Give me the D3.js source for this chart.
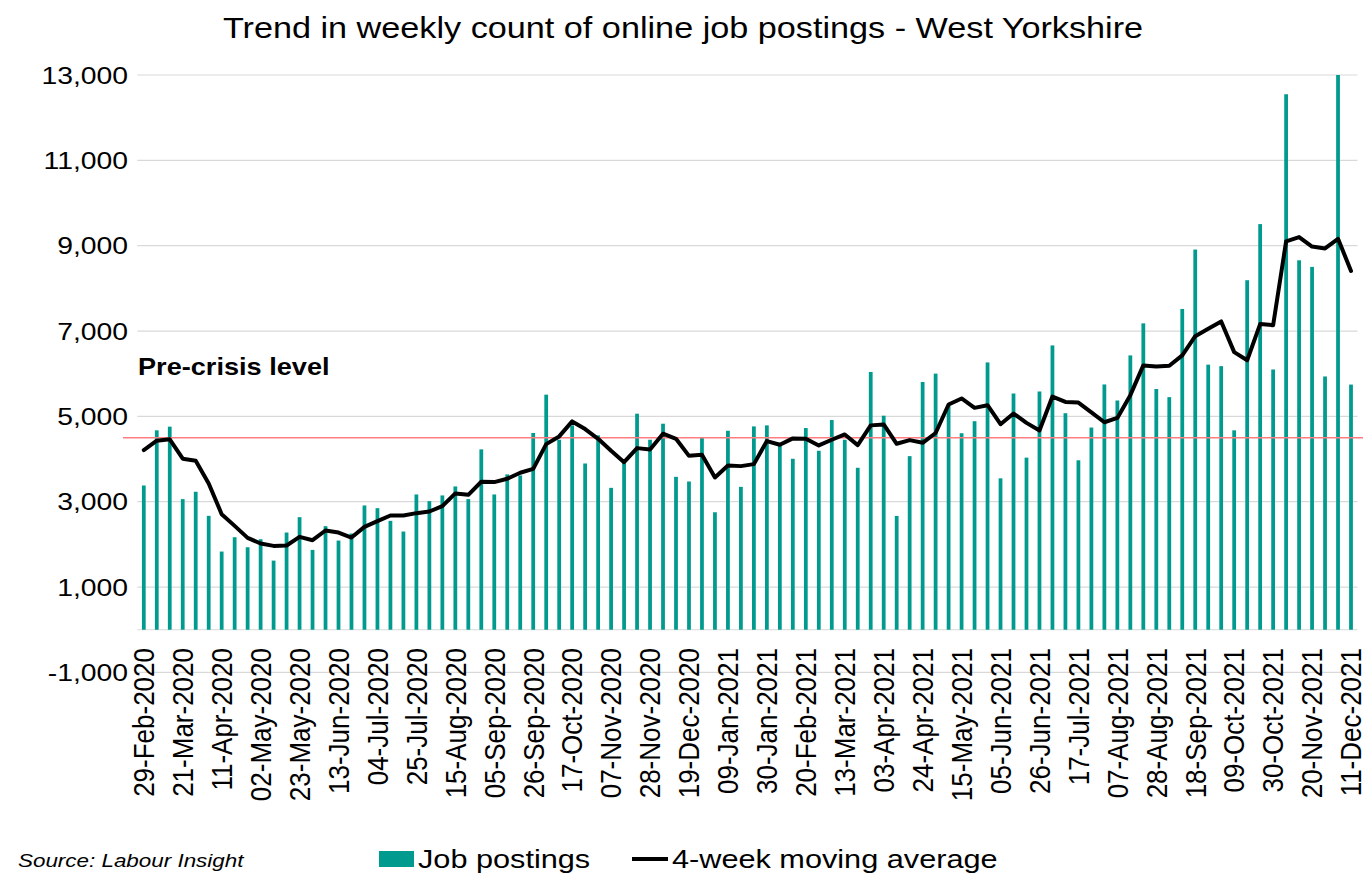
<!DOCTYPE html>
<html><head><meta charset="utf-8">
<script src="https://cdn.jsdelivr.net/npm/d3@7"></script>
<style>
html,body{margin:0;padding:0;background:#fff;}
svg{display:block;}
text{font-family:"Liberation Sans",Arial,sans-serif;fill:#000;}
</style></head>
<body><svg id="chart" width="1363" height="873"></svg>
<script>
// ---- data ----
const firstWeek = "2020-02-29";
const weekCount = 94;
const tickLabels = ["29-Feb-2020","21-Mar-2020","11-Apr-2020","02-May-2020","23-May-2020","13-Jun-2020","04-Jul-2020","25-Jul-2020","15-Aug-2020","05-Sep-2020","26-Sep-2020","17-Oct-2020","07-Nov-2020","28-Nov-2020","19-Dec-2020","09-Jan-2021","30-Jan-2021","20-Feb-2021","13-Mar-2021","03-Apr-2021","24-Apr-2021","15-May-2021","05-Jun-2021","26-Jun-2021","17-Jul-2021","07-Aug-2021","28-Aug-2021","18-Sep-2021","09-Oct-2021","30-Oct-2021","20-Nov-2021","11-Dec-2021"];
const postings = [3380,4673,4759,3061,3233,2669,1832,2168,1933,2121,1620,2278,2638,1871,2427,2090,2254,2912,2849,2552,2301,3170,3014,3147,3358,3061,4227,3170,3640,3616,4611,5509,4452,4789,3896,4554,3325,3950,5063,4452,4828,3583,3474,4515,2753,4663,3348,4765,4789,4380,4006,4726,4194,4914,4452,3795,6041,5016,2667,4068,5806,6002,5250,4605,4887,6264,3548,5536,4033,5583,6663,5074,3971,4738,5748,5372,6429,7180,5641,5451,7517,8909,6212,6177,4673,8191,9506,6099,12549,8658,8503,5935,13000,5745];
const movingAvg = [4211,4430,4462,4008,3961,3429,2708,2434,2153,2020,1965,1973,2176,2098,2325,2278,2160,2411,2544,2677,2677,2732,2771,2896,3194,3162,3468,3460,3538,3679,3770,4350,4530,4882,4702,4475,4193,3927,4256,4225,4593,4475,4075,4099,3568,3850,3834,3881,4421,4335,4484,4475,4319,4452,4577,4327,4789,4812,4358,4444,4381,4610,5278,5419,5200,5262,4816,5067,4848,4668,5465,5339,5323,5096,4862,4964,5497,6194,6168,6186,6428,6878,7051,7224,6506,6316,7163,7137,9100,9203,8979,8936,9161,8409];
const yTicks = [-1000,1000,3000,5000,7000,9000,11000,13000];
const preCrisis = 4500;
const titleText = "Trend in weekly count of online job postings - West Yorkshire";

// ---- categories ----
const fmt = d3.utcFormat("%d-%b-%Y");
const startDate = d3.utcParse("%Y-%m-%d")(firstWeek);
const weeks = d3.range(weekCount).map(i => fmt(d3.utcDay.offset(startDate, 7*i)));

// ---- layout ----
const svg = d3.select("#chart");
const plotL = 137.3, plotR = 1357.5, plotT = 75, plotB = 672.4;
const SX = 1.18; // horizontal text stretch of the original
const x = d3.scaleBand().domain(weeks).range([plotL, plotR]).padding(0);
const y = d3.scaleLinear().domain([-1000, 13000]).range([plotB, plotT]);
const numFmt = d3.formatLocale({decimal: ".", thousands: ",", grouping: [3], currency: ["", ""], minus: "-"}).format(",");

// gridlines
svg.append("g").selectAll("line").data(yTicks).join("line")
  .attr("x1", plotL).attr("x2", plotR)
  .attr("y1", d => y(d)).attr("y2", d => y(d))
  .attr("stroke", "#d9d9d9").attr("stroke-width", 1.2);
// zero axis
svg.append("line").attr("x1", plotL).attr("x2", plotR)
  .attr("y1", y(0)).attr("y2", y(0)).attr("stroke", "#d9d9d9").attr("stroke-width", 1.2);

// y tick labels
svg.append("g").selectAll("text").data(yTicks).join("text")
  .attr("transform", d => `translate(128,${y(d)}) scale(${SX},1)`)
  .attr("text-anchor", "end").attr("dy", "0.36em")
  .style("font-size", "24px")
  .text(d => numFmt(d));

// bars
const bw = x.bandwidth() * 0.29;
svg.append("g").selectAll("rect").data(postings).join("rect")
  .attr("x", (d, i) => x(weeks[i]) + x.bandwidth()/2 - bw/2)
  .attr("width", bw)
  .attr("y", d => y(d))
  .attr("height", d => y(0) - y(d))
  .attr("fill", "#009b8e");

// pre-crisis line
svg.append("line").attr("x1", 123).attr("x2", 1363)
  .attr("y1", y(preCrisis)).attr("y2", y(preCrisis))
  .attr("stroke", "#ff7c80").attr("stroke-width", 1.5);

// moving average line
const line = d3.line().x((d, i) => x(weeks[i]) + x.bandwidth()/2).y(d => y(d));
svg.append("path").datum(movingAvg).attr("d", line)
  .attr("fill", "none").attr("stroke", "#000").attr("stroke-width", 4)
  .attr("stroke-linejoin", "round").attr("stroke-linecap", "round");

// x tick labels
const tickSet = new Set(tickLabels);
svg.append("g").selectAll("text").data(weeks.filter(w => tickSet.has(w))).join("text")
  .attr("transform", d => `translate(${x(d) + x.bandwidth()/2},648) scale(1.1,1) rotate(-90)`)
  .attr("text-anchor", "end").attr("dy", "0.36em")
  .style("font-size", "26px")
  .text(d => d);

// title
svg.append("text").attr("transform", `translate(683,38) scale(${SX},1)`)
  .attr("text-anchor", "middle").style("font-size", "29px").text(titleText);

// pre-crisis label
svg.append("text").attr("transform", `translate(138,375) scale(${SX},1)`)
  .style("font-size", "23px").style("font-weight", "bold")
  .text("Pre-crisis level");

// legend
svg.append("rect").attr("x", 379).attr("y", 851).attr("width", 35).attr("height", 16).attr("fill", "#009b8e");
svg.append("text").attr("transform", `translate(418,868) scale(${SX},1)`).style("font-size", "26px").text("Job postings");
svg.append("line").attr("x1", 632).attr("x2", 668).attr("y1", 859).attr("y2", 859).attr("stroke", "#000").attr("stroke-width", 4);
svg.append("text").attr("transform", `translate(672,868) scale(${SX},1)`).style("font-size", "26px").text("4-week moving average");

// source
svg.append("text").attr("transform", `translate(18,867) scale(${SX},1)`)
  .style("font-size", "19px").style("font-style", "italic").text("Source: Labour Insight");
</script>
</body></html>
